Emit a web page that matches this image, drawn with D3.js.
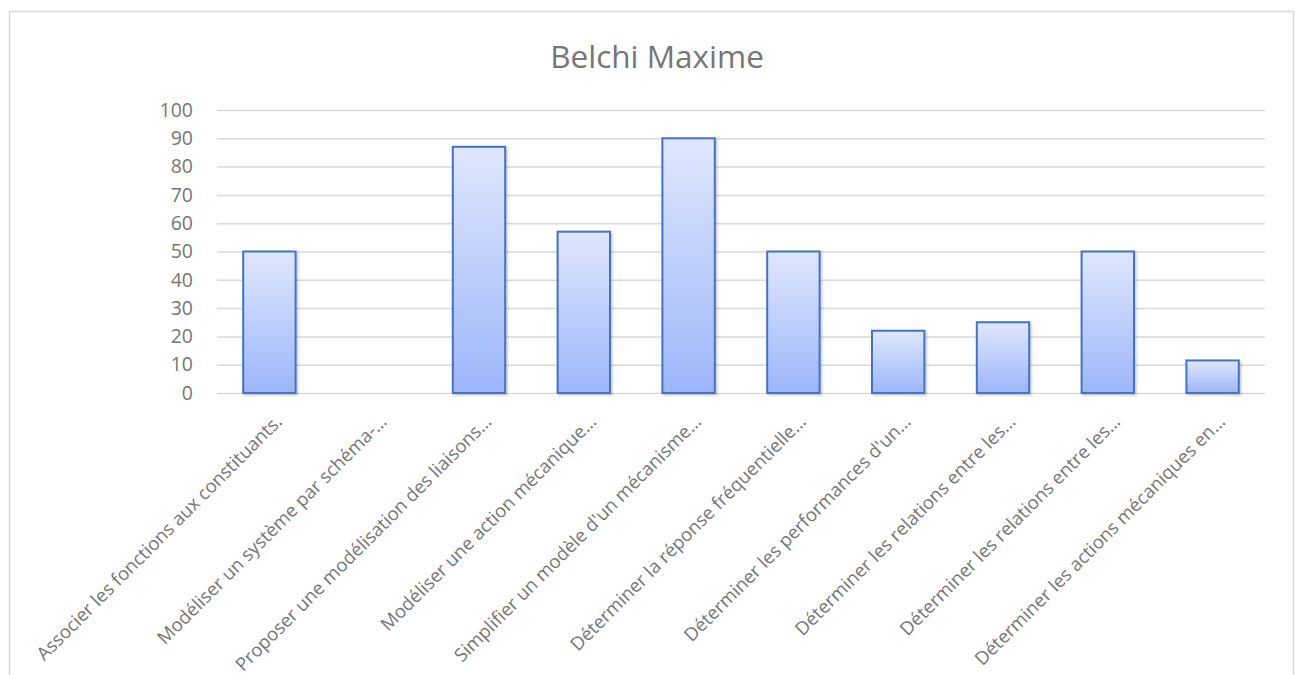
<!DOCTYPE html>
<html>
<head>
<meta charset="utf-8">
<script src="https://cdn.jsdelivr.net/npm/d3@7"></script>
<style>
  html, body { margin: 0; padding: 0; background: #fff; }
  svg { display: block; }
  text { font-family: "Open Sans", sans-serif; }
</style>
</head>
<body>
<svg id="chart" width="1298" height="675"></svg>
<script>
// Compétences évaluées et taux de réussite (%)
const chartTitle = "Belchi Maxime";
const categories = [
  "Associer les fonctions aux constituants.",
  "Modéliser un système par schéma-…",
  "Proposer une modélisation des liaisons…",
  "Modéliser une action mécanique…",
  "Simplifier un modèle d'un mécanisme…",
  "Déterminer la réponse fréquentielle…",
  "Déterminer les performances d'un…",
  "Déterminer les relations entre les…",
  "Déterminer les relations entre les…",
  "Déterminer les actions mécaniques en…"
];
const scores = [50, 0, 87, 57, 90, 50, 22, 25, 50, 11.5];
const yTicks = [0, 10, 20, 30, 40, 50, 60, 70, 80, 90, 100];

const svg = d3.select("#chart");
const plot = { left: 217, right: 1265, top: 110, bottom: 393 };
const textColor = "#767676";
const gridColor = "#d9d9d9";
const font = "'Open Sans', sans-serif";

// Chart area frame
svg.append("rect")
  .attr("x", 9.5).attr("y", 11.5)
  .attr("width", 1284).attr("height", 700)
  .attr("fill", "#fff")
  .attr("stroke", gridColor)
  .attr("stroke-width", 1.5);

const defs = svg.append("defs");
const grad = defs.append("linearGradient")
  .attr("id", "barFill").attr("x1", 0).attr("y1", 0).attr("x2", 0).attr("y2", 1);
grad.append("stop").attr("offset", "0%").attr("stop-color", "#dfe7fd");
grad.append("stop").attr("offset", "100%").attr("stop-color", "#9db6fa");

const shadow = defs.append("filter").attr("id", "barShadow")
  .attr("x", "-20%").attr("y", "-20%").attr("width", "140%").attr("height", "140%");
shadow.append("feDropShadow")
  .attr("dx", 1.5).attr("dy", 1.5).attr("stdDeviation", 1)
  .attr("flood-color", "#000").attr("flood-opacity", 0.22);

const x = d3.scaleBand()
  .domain(d3.range(categories.length))
  .range([plot.left, plot.right])
  .paddingInner(0.5)
  .paddingOuter(0.25);

const y = d3.scaleLinear()
  .domain([0, 100])
  .range([plot.bottom, plot.top]);

// Title
svg.append("text")
  .attr("x", 657)
  .attr("y", 68)
  .attr("text-anchor", "middle")
  .attr("font-size", 31.5)
  .attr("fill", textColor)
  .text(chartTitle);

// Horizontal gridlines and value labels
const yAxis = d3.axisLeft(y)
  .tickValues(yTicks)
  .tickSize(-(plot.right - plot.left))
  .tickPadding(24);

const gy = svg.append("g")
  .attr("transform", `translate(${plot.left},0)`)
  .call(yAxis);
gy.select(".domain").remove();
gy.selectAll(".tick line")
  .attr("stroke", gridColor)
  .attr("stroke-width", 1.5);
gy.selectAll(".tick text")
  .attr("font-size", 19.5)
  .attr("fill", textColor)
  .attr("font-family", font);

// Bars
svg.append("g")
  .selectAll("rect")
  .data(scores.map((v, i) => ({ v, i })).filter(d => d.v > 0))
  .join("rect")
  .attr("x", d => x(d.i))
  .attr("y", d => y(d.v))
  .attr("width", x.bandwidth())
  .attr("height", d => y(0) - y(d.v))
  .attr("fill", "url(#barFill)")
  .attr("stroke", "#4472c4")
  .attr("stroke-width", 2)
  .attr("filter", "url(#barShadow)");

// Category labels, rotated
const xAxis = d3.axisBottom(x)
  .tickSize(0)
  .tickFormat(i => categories[i]);

const gx = svg.append("g")
  .attr("transform", `translate(0,${plot.bottom})`)
  .call(xAxis);
gx.select(".domain").remove();
gx.selectAll(".tick text")
  .attr("font-size", 18.5)
  .attr("fill", textColor)
  .attr("font-family", font)
  .attr("text-anchor", "end")
  .attr("dy", "0.35em")
  .attr("transform", "translate(7,23) rotate(-45)");
</script>
</body>
</html>
